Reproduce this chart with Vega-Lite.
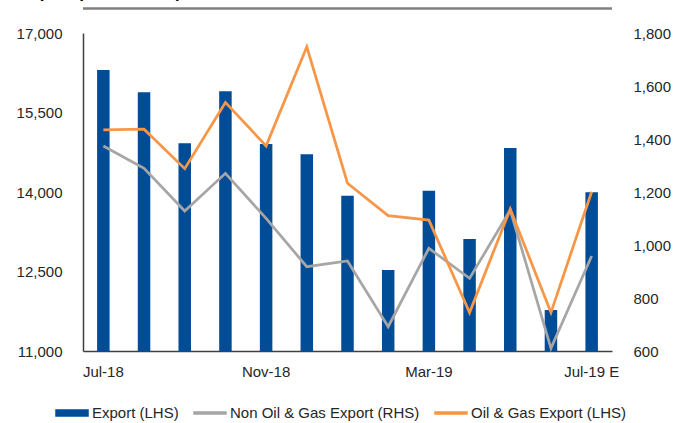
{
  "$schema": "https://vega.github.io/schema/vega-lite/v6.json",
  "width": 529,
  "height": 318,
  "autosize": {"type": "none"},
  "padding": {"left": 83, "top": 33, "right": 78, "bottom": 72},
  "background": "white",
  "config": {
    "view": {"stroke": null},
    "font": "Liberation Sans",
    "axis": {
      "labelFont": "Liberation Sans",
      "labelFontSize": 15,
      "labelColor": "#262626",
      "ticks": false,
      "grid": false,
      "domainColor": "#404040",
      "domainWidth": 1.5,
      "title": null
    }
  },
  "title": {
    "text": "Export (US$ million)",
    "anchor": "start",
    "frame": "group",
    "fontSize": 17,
    "fontWeight": "bold",
    "font": "Liberation Sans",
    "color": "#000000",
    "baseline": "alphabetic",
    "dx": -64,
    "dy": 8,
    "offset": 0
  },
  "data": {
    "values": [
      {"month": "Jul-18", "export": 16302, "nonoil": 14868, "oilgas": 1434},
      {"month": "Aug-18", "export": 15881, "nonoil": 14446, "oilgas": 1437},
      {"month": "Sep-18", "export": 14919, "nonoil": 13641, "oilgas": 1288},
      {"month": "Oct-18", "export": 15900, "nonoil": 14352, "oilgas": 1538},
      {"month": "Nov-18", "export": 14906, "nonoil": 13503, "oilgas": 1374},
      {"month": "Dec-18", "export": 14711, "nonoil": 12590, "oilgas": 1748},
      {"month": "Jan-19", "export": 13930, "nonoil": 12698, "oilgas": 1233},
      {"month": "Feb-19", "export": 12528, "nonoil": 11458, "oilgas": 1111},
      {"month": "Mar-19", "export": 14025, "nonoil": 12937, "oilgas": 1094},
      {"month": "Apr-19", "export": 13113, "nonoil": 12371, "oilgas": 745},
      {"month": "May-19", "export": 14830, "nonoil": 13660, "oilgas": 1136},
      {"month": "Jun-19", "export": 11773, "nonoil": 11050, "oilgas": 745},
      {"month": "Jul-19", "export": 13994, "nonoil": 12792, "oilgas": 1201}
    ]
  },
  "layer": [
    {
      "layer": [
        {
          "mark": {"type": "bar", "size": 12.5},
          "encoding": {
            "x": {
              "field": "month",
              "type": "ordinal",
              "sort": null,
              "scale": {"paddingInner": 0, "paddingOuter": 0},
              "axis": {
                "labelAngle": 0,
                "labelPadding": 13,
                "title": null,
                "labelExpr": "indexof(['Jul-18','Nov-18','Mar-19'], datum.value) >= 0 ? datum.value : (datum.value === 'Jul-19' ? 'Jul-19 E' : '')"
              }
            },
            "y": {
              "field": "export",
              "type": "quantitative",
              "scale": {"domain": [11000, 17000], "nice": false, "zero": false},
              "axis": {
                "values": [11000, 12500, 14000, 15500, 17000],
                "format": ",.0f",
                "labelPadding": 21,
                "domain": true,
                "title": null
              }
            },
            "y2": {"datum": 11000},
            "color": {
              "datum": "Export (LHS)",
              "scale": {
                "domain": ["Export (LHS)", "Non Oil & Gas Export (RHS)", "Oil & Gas Export (LHS)"],
                "range": ["#004C97", "#A6A6A6", "#F79646"]
              },
              "legend": {
                "orient": "none",
                "legendX": -28,
                "legendY": 363,
                "direction": "horizontal",
                "title": null,
                "labelFont": "Liberation Sans",
                "labelFontSize": 15,
                "labelColor": "#262626",
                "labelLimit": 300,
                "symbolSize": 1024,
                "labelOffset": 3,
                "columnPadding": 12,
                "encode": {
                  "symbols": {
                    "update": {
                      "shape": {"signal": "datum.value === 'Export (LHS)' ? 'M-1,-0.19H1V0.19H-1Z' : 'M-1,-0.07H1V0.07H-1Z'"},
                      "fill": {"scale": "color", "field": "value"},
                      "stroke": {"value": "transparent"},
                      "opacity": {"value": 1},
                      "fillOpacity": {"value": 1}
                    }
                  }
                }
              }
            }
          }
        },
        {
          "mark": {"type": "line", "strokeWidth": 2.75},
          "encoding": {
            "x": {"field": "month", "type": "ordinal", "sort": null},
            "y": {"field": "nonoil", "type": "quantitative"},
            "color": {"datum": "Non Oil & Gas Export (RHS)"}
          }
        },
        {
          "data": {"values": [{}]},
          "mark": {"type": "rule", "color": "#808080", "strokeWidth": 2.5, "clip": false},
          "encoding": {
            "y": {"datum": 17462}
          }
        }
      ]
    },
    {
      "mark": {"type": "line", "strokeWidth": 2.75},
      "encoding": {
        "x": {"field": "month", "type": "ordinal", "sort": null},
        "y": {
          "field": "oilgas",
          "type": "quantitative",
          "scale": {"domain": [600, 1800], "nice": false, "zero": false},
          "axis": {
            "orient": "right",
            "values": [600, 800, 1000, 1200, 1400, 1600, 1800],
            "format": ",.0f",
            "labelPadding": 21,
            "domain": false,
            "title": null
          }
        },
        "color": {"datum": "Oil & Gas Export (LHS)"}
      }
    }
  ],
  "resolve": {"scale": {"y": "independent"}}
}
